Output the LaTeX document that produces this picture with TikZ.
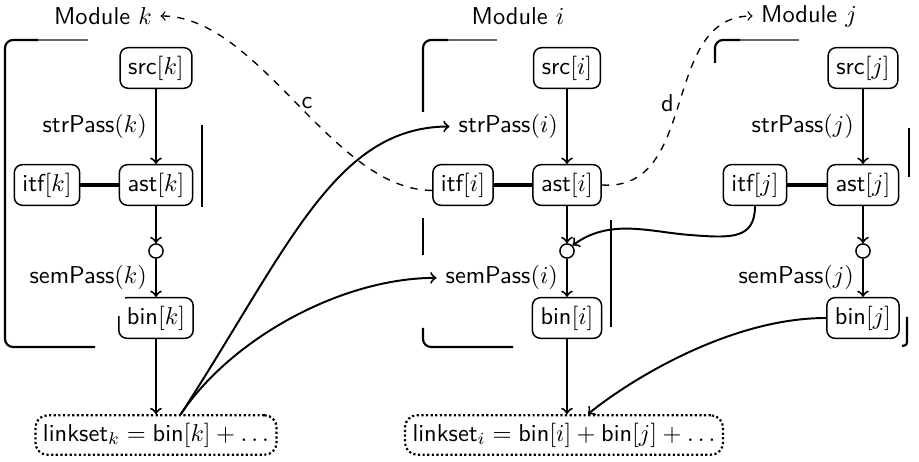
\documentclass[tikz,border=0pt]{standalone}
\usetikzlibrary{calc}
\renewcommand{\familydefault}{\sfdefault}
\begin{document}
\begin{tikzpicture}[x=0.41pt,y=-0.41pt,
  box/.style={draw, rounded corners=3.3pt, line width=0.6pt},
  setbox/.style={draw, densely dotted, rounded corners=5pt, line width=0.9pt, inner sep=3.1pt},
  junc/.style={draw, circle, minimum size=5.8pt, inner sep=0pt, line width=0.6pt},
  flow/.style={->, line width=0.8pt},
  bond/.style={line width=1.6pt},
  link/.style={->, dashed, line width=0.55pt},
  frame/.style={line width=0.9pt, rounded corners=3.3pt},
  framethin/.style={line width=0.45pt, black!60},
  tag/.style={inner sep=2pt},
]
\useasboundingbox (0,0) rectangle (919,462);

% ---- module k ----
\node (modk) at (103,16) {Module $k$};
\node[box] (srck) at (156,68) {src$[k]$};
\node[box] (astk) at (156,185) {ast$[k]$};
\node[box] (itfk) at (47,185) {itf$[k]$};
\node[junc] (ck) at (156,251) {};
\node[box] (bink) at (156,318) {bin$[k]$};
\node[setbox] (lsk) at (156,435) {$\textsf{linkset}_k = \textsf{bin}[k] + \ldots$};

% ---- module i ----
\node (modi) at (518,16) {Module $i$};
\node[box] (srci) at (567,68) {src$[i]$};
\node[box] (asti) at (567,185) {ast$[i]$};
\node[box] (itfi) at (463,185) {itf$[i]$};
\node[junc] (ci) at (567,251) {};
\node[box] (bini) at (567,318) {bin$[i]$};
\node[setbox] (lsi) at (564,435) {$\textsf{linkset}_i = \textsf{bin}[i] + \textsf{bin}[j] + \ldots$};

% ---- module j ----
\node (modj) at (809,16) {Module $j$};
\node[box] (srcj) at (863,68) {src$[j]$};
\node[box] (astj) at (863,185) {ast$[j]$};
\node[box] (itfj) at (755,185) {itf$[j]$};
\node[junc] (cj) at (863,251) {};
\node[box] (binj) at (863,318) {bin$[j]$};

% open corner of bin[k]
\fill[white] ($(bink.north west)+(-2,-2)$) rectangle ($(bink.north west)+(7,19)$);

% ---- module frames ----
\draw[frame] (38,40) -- (5,40) -- (5,347) -- (95,347);
\draw[framethin] (38,40) -- (88,40);
\draw[frame] (202,125) -- (202,207);

\draw[frame] (448,40) -- (423,40) -- (423,112);
\draw[framethin] (448,40) -- (497,40);
\draw[frame] (423,218) -- (423,255);
\draw[frame] (423,328) -- (423,347) -- (513,347);
\draw[frame] (611,220) -- (611,327);

\draw[frame] (740,40) -- (715,40) -- (715,63);
\draw[framethin] (740,40) -- (799,40);
\draw[frame] (909,128) -- (909,177);
\draw[line width=0.9pt] (907,317) -- (907,339) .. controls (907,345) .. (902,346);

% ---- passes inside each module ----
\draw[flow] (srck) -- node[left] (spk) {strPass$(k)$} (astk);
\draw[bond] (itfk) -- (astk);
\draw[flow] (astk) -- (ck);
\draw[flow] (ck) -- node[left] (mpk) {semPass$(k)$} (bink);
\draw[flow] (bink) -- (lsk);

\draw[flow] (srci) -- node[left] (spi) {strPass$(i)$} (asti);
\draw[bond] (itfi) -- (asti);
\draw[flow] (asti) -- (ci);
\draw[flow] (ci) -- node[left] (mpi) {semPass$(i)$} (bini);
\draw[flow] (bini) -- (bini |- lsi.north);

\draw[flow] (srcj) -- node[left] (spj) {strPass$(j)$} (astj);
\draw[bond] (itfj) -- (astj);
\draw[flow] (astj) -- (cj);
\draw[flow] (cj) -- node[left] (mpj) {semPass$(j)$} (binj);

% ---- dependencies between modules ----
\draw[link] (itfi.190) .. controls (332,190) and (260,16) .. node[tag, right, pos=0.5] {c} (modk.east);
\draw[link] (asti.east) .. controls (700,192) and (660,16) .. node[tag, left, pos=0.5] {d} (modj.west);

\draw[flow] (lsk.40) .. controls (289,247) and (335,127) .. (spi.west);
\draw[flow] (lsk.40) .. controls (230,340) and (340,278) .. (mpi.west);

\draw[flow] (itfj.south) .. controls (755,240) and (730,238) .. (690,235)
  .. controls (650,232) and (610,218) .. (ci.north east);
\draw[flow] (binj.west) .. controls (730,318) and (630,380) .. ([xshift=9.8pt]lsi.north);
\end{tikzpicture}
\end{document}
